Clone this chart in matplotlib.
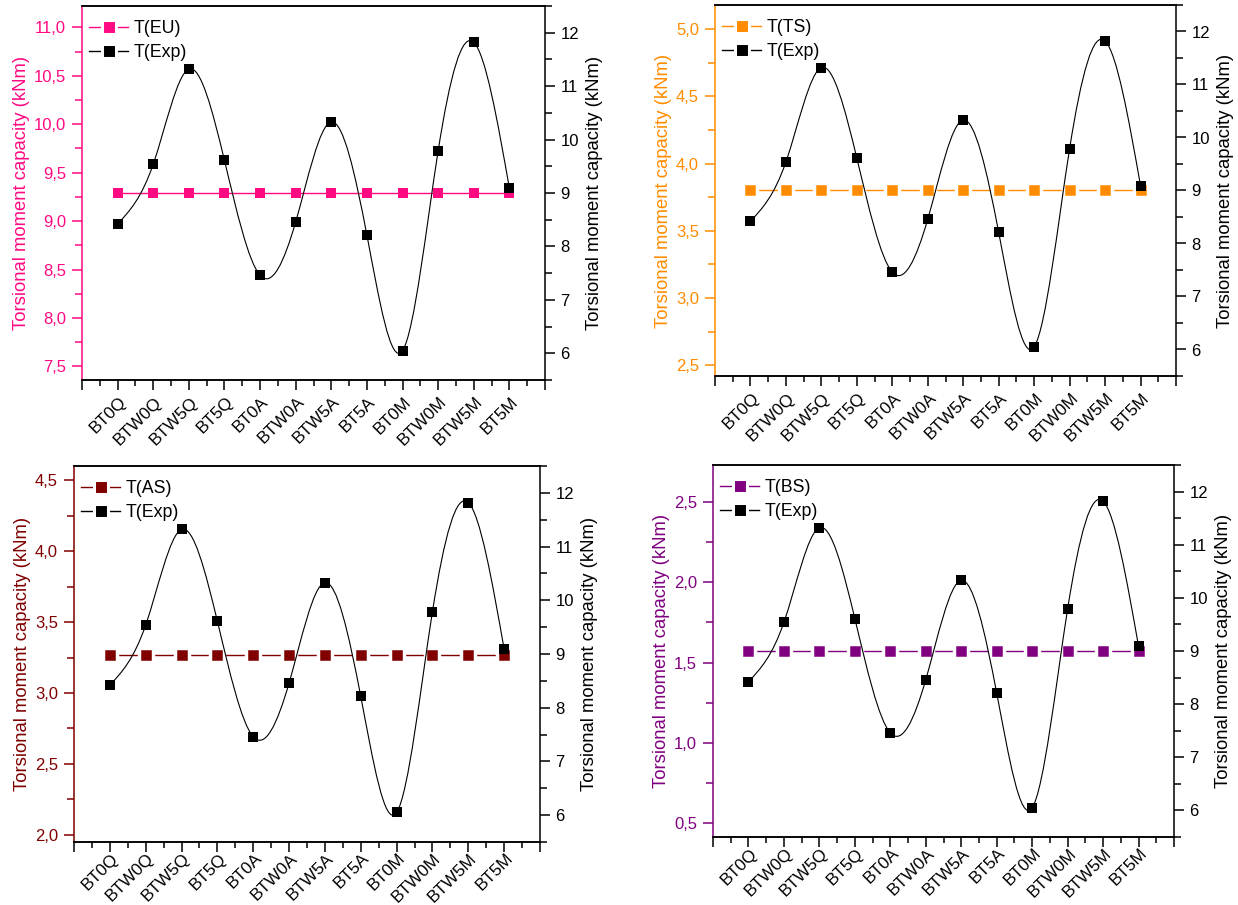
import numpy as np
import matplotlib
matplotlib.use("Agg")
import matplotlib.pyplot as plt
import matplotlib.transforms as mtransforms
from matplotlib.path import Path
from matplotlib.patches import PathPatch
from matplotlib.lines import Line2D
from matplotlib.ticker import MultipleLocator, FuncFormatter

plt.rcParams['font.family'] = ['Liberation Sans', 'DejaVu Sans']

# specimens and measured values
specimens = ["BT0Q", "BTW0Q", "BTW5Q", "BT5Q", "BT0A", "BTW0A",
             "BTW5A", "BT5A", "BT0M", "BTW0M", "BTW5M", "BT5M"]
t_exp = [8.42, 9.54, 11.32, 9.61, 7.46, 8.46, 10.33, 8.21, 6.05, 9.79, 11.82, 9.09]
t_eu = [9.29] * 12
t_ts = [3.80] * 12
t_as = [3.27] * 12
t_bs = [1.57] * 12

# name, values, colour, left ylim, first/last major tick, gapped line, axes rect (px), label pad
panels = [
    ("T(EU)", t_eu, "#FF0A82", (7.36, 11.22), (7.5, 11.0), False, (82, 6, 545, 380), 7),
    ("T(TS)", t_ts, "#FF8C00", (2.42, 5.18), (2.5, 5.0), True, (715, 5, 1176, 376), 7),
    ("T(AS)", t_as, "#800000", (1.95, 4.60), (2.0, 4.5), True, (74, 466, 540, 842), 3),
    ("T(BS)", t_bs, "#800080", (0.415, 2.73), (0.5, 2.5), True, (713, 465, 1174, 837), 3),
]

W, H = 1238, 905
fig = plt.figure(figsize=(W / 100, H / 100), dpi=100)

ylab = "Torsional moment capacity (kNm)"
comma = FuncFormatter(lambda v, p: f"{v:.1f}".replace(".", ","))


def spline_path(xs, ys):
    # natural cubic spline through the points, drawn as bezier segments
    n = len(ys)
    y = np.asarray(ys, float)
    A = np.zeros((n, n))
    b = np.zeros(n)
    A[0, 0], A[0, 1], b[0] = 2, 1, 3 * (y[1] - y[0])
    A[-1, -2], A[-1, -1], b[-1] = 1, 2, 3 * (y[-1] - y[-2])
    for i in range(1, n - 1):
        A[i, i - 1], A[i, i], A[i, i + 1] = 1, 4, 1
        b[i] = 3 * (y[i + 1] - y[i - 1])
    m = np.linalg.solve(A, b)
    verts = [(xs[0], y[0])]
    codes = [Path.MOVETO]
    for i in range(n - 1):
        verts += [(xs[i] + 1 / 3, y[i] + m[i] / 3),
                  (xs[i + 1] - 1 / 3, y[i + 1] - m[i + 1] / 3),
                  (xs[i + 1], y[i + 1])]
        codes += [Path.CURVE4] * 3
    return Path(verts, codes)


x = np.arange(len(specimens))

for name, vals, col, ylim, tk, gapped, (l, t, r, b), xpad in panels:
    ax = fig.add_axes([l / W, 1 - b / H, (r - l) / W, (b - t) / H])
    ax2 = ax.twinx()

    if gapped:
        ax.plot(x, vals, color=col, lw=1.0, marker="s", ms=10.2, mfc=col,
                mec="white", mew=2.5)
    else:
        ax.plot(x, vals, color=col, lw=1.0, marker="s", ms=7.8, mfc=col, mec=col, mew=0)

    ax2.add_patch(PathPatch(spline_path(x, t_exp), fc="none", ec="black", lw=0.8))
    ax2.plot(x, t_exp, ls="none", marker="s", ms=7.8, mfc="black", mec="black", mew=0)

    ax.set_xlim(-1, 12)
    ax.set_ylim(*ylim)
    ax2.set_ylim(5.5, 12.5)

    # x axis: bottom ticks out, top ticks in (via twin)
    ax.set_xticks(np.arange(-1, 13), [""] + specimens + [""])
    ax.xaxis.set_minor_locator(MultipleLocator(0.5))
    ax.tick_params(axis="x", which="major", direction="out", length=7, width=1.1,
                   pad=xpad, labelsize=12.3, top=False)
    ax.tick_params(axis="x", which="minor", direction="out", length=4, width=1.1, top=False)
    ax2.tick_params(axis="x", which="both", top=True, bottom=False, labeltop=False,
                    labelbottom=False, direction="in", width=1.1)
    ax2.tick_params(axis="x", which="major", length=6.5)
    ax2.tick_params(axis="x", which="minor", length=4)
    off = mtransforms.ScaledTranslation(6 / 100, 0, fig.dpi_scale_trans)
    for lab in ax.get_xticklabels():
        lab.set_rotation(45)
        lab.set_ha("right")
        lab.set_va("center")
        lab.set_rotation_mode("anchor")
        lab.set_transform(lab.get_transform() + off)

    # left axis in the code colour
    ax.set_yticks(np.arange(tk[0], tk[1] + 0.01, 0.5))
    ax.yaxis.set_minor_locator(MultipleLocator(0.25))
    ax.yaxis.set_major_formatter(comma)
    ax.tick_params(axis="y", which="both", colors=col, width=1.1, direction="out")
    ax.tick_params(axis="y", which="major", length=7.5, pad=4, labelsize=12)
    ax.tick_params(axis="y", which="minor", length=5)
    ax.set_ylabel(ylab, color=col, fontsize=13.3, labelpad=2.5)

    # right axis black
    ax2.set_yticks(np.arange(6, 13, 1))
    ax2.yaxis.set_minor_locator(MultipleLocator(0.5))
    ax2.tick_params(axis="y", which="both", colors="black", width=1.1, direction="out")
    ax2.tick_params(axis="y", which="major", length=7.5, pad=3.5, labelsize=12)
    ax2.tick_params(axis="y", which="minor", length=5)
    ax2.set_ylabel(ylab, color="black", fontsize=13.3, labelpad=5)

    for s in ax.spines.values():
        s.set_linewidth(1.1)
    for s in ax2.spines.values():
        s.set_linewidth(1.1)
    ax.spines["left"].set_color(col)
    ax.spines["right"].set_visible(False)
    ax2.spines["left"].set_visible(False)

    handles = [
        Line2D([], [], color=col, lw=1.0, marker="s", ms=10.2, mfc=col, mec="white", mew=2.2),
        Line2D([], [], color="black", lw=1.0, marker="s", ms=10.2, mfc="black", mec="white", mew=2.2),
    ]
    ax2.legend(handles, [name, "T(Exp)"], loc="upper left", frameon=False,
               bbox_to_anchor=(7 / (r - l), 1 - 14 / (b - t)), borderaxespad=0,
               borderpad=0, handlelength=2.2, handletextpad=0.3, labelspacing=0.38,
               fontsize=12.8)

fig.savefig("out.png", dpi=100)
